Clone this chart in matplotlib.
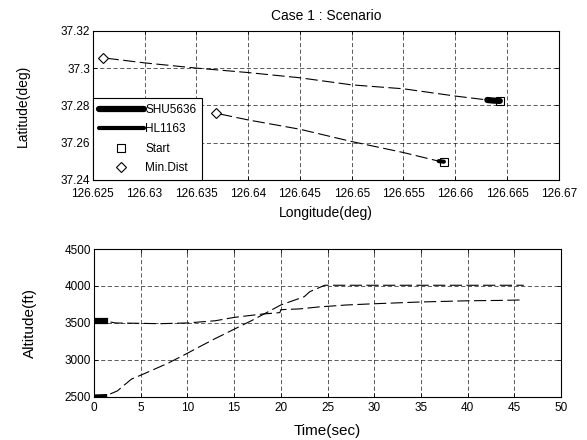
import matplotlib.pyplot as plt

plt.rcParams["font.family"] = ["Liberation Sans", "DejaVu Sans"]
plt.rcParams["font.size"] = 8.5

# Ground tracks (longitude / latitude)
shu_lon = [126.6643, 126.6636, 126.6631, 126.660, 126.655, 126.650, 126.645,
           126.640, 126.635, 126.630, 126.626]
shu_lat = [37.2824, 37.2826, 37.2829, 37.2850, 37.2889, 37.2910, 37.2948,
           37.2976, 37.3000, 37.3028, 37.3055]
hl_lon = [126.6589, 126.6584, 126.655, 126.650, 126.645, 126.640, 126.6369]
hl_lat = [37.2498, 37.2501, 37.2547, 37.2606, 37.2672, 37.2722, 37.2758]

# Altitude histories
shu_t = [0, 1.2, 2.3, 5, 7, 10, 13, 15, 16.3, 18, 19.9, 20, 22, 24, 27, 30,
         35, 40, 43.5, 46]
shu_alt = [3527, 3527, 3500, 3495, 3490, 3500, 3530, 3575, 3595, 3620, 3640,
           3680, 3690, 3716, 3743, 3760, 3784, 3800, 3805, 3812]
hl_t = [0, 1.2, 2.5, 4, 5.5, 8, 10, 11, 13, 15, 17, 20, 22.5, 23.1, 24.7,
        30, 35, 40, 46]
hl_alt = [2505, 2510, 2580, 2739, 2820, 2960, 3090, 3158, 3290, 3415, 3540,
          3743, 3855, 3923, 4010, 4010, 4010, 4010, 4010]

N_THICK_TRACK = (3, 2)   # leading points drawn bold on the map
N_THICK_ALT = 2          # leading points drawn bold on the altitude plot

lon_ticks = [126.625, 126.63, 126.635, 126.64, 126.645, 126.65, 126.655,
             126.66, 126.665, 126.67]
lon_labels = ["126.625", "126.63", "126.635", "126.64", "126.645", "126.65",
              "126.655", "126.66", "126.665", "126.67"]
lat_ticks = [37.24, 37.26, 37.28, 37.3, 37.32]
lat_labels = ["37.24", "37.26", "37.28", "37.3", "37.32"]
t_ticks = [0, 5, 10, 15, 20, 25, 30, 35, 40, 45, 50]
alt_ticks = [2500, 3000, 3500, 4000, 4500]

TRACE = dict(color="black", lw=0.8, ls=(0, (11, 4)))
GRID = dict(color="black", lw=0.6, ls=(0, (5, 3)), alpha=0.75)

fig = plt.figure(figsize=(5.87, 4.40), dpi=100)
ax1 = fig.add_axes([0.158, 0.591, 0.794, 0.339])
ax2 = fig.add_axes([0.160, 0.098, 0.796, 0.336])

for ax in (ax1, ax2):
    ax.grid(True, **GRID)
    ax.set_axisbelow(True)
    ax.tick_params(direction="in", length=3, width=0.6, top=True, right=True,
                   labelsize=8.5, pad=2)
    for s in ax.spines.values():
        s.set_linewidth(0.8)
ax1.tick_params(axis="x", pad=6)
ax2.tick_params(axis="x", pad=4)

# --- map view ---
n1, n2 = N_THICK_TRACK
h_shu, = ax1.plot(shu_lon[:n1], shu_lat[:n1], color="black", lw=4.5,
                  solid_capstyle="round", label="SHU5636")
h_hl, = ax1.plot(hl_lon[:n2], hl_lat[:n2], color="black", lw=3,
                 solid_capstyle="round", label="HL1163")
ax1.plot(shu_lon, shu_lat, **TRACE)
ax1.plot(hl_lon, hl_lat, **TRACE)
h_start, = ax1.plot([shu_lon[0], hl_lon[0]], [shu_lat[0], hl_lat[0]], "s",
                    ms=5.5, mfc="none", mec="black", mew=0.8, label="Start")
h_min, = ax1.plot([shu_lon[-1], hl_lon[-1]], [shu_lat[-1], hl_lat[-1]], "D",
                  ms=5, mfc="white", mec="black", mew=0.8, label="Min.Dist")
ax1.set_xlim(126.625, 126.67)
ax1.set_ylim(37.24, 37.32)
ax1.set_xticks(lon_ticks, lon_labels)
ax1.set_yticks(lat_ticks, lat_labels)
ax1.set_xlabel("Longitude(deg)", fontsize=10, labelpad=4)
ax1.set_ylabel("Latitude(deg)", fontsize=10, labelpad=22)
ax1.set_title("Case 1 : Scenario", fontsize=10, pad=8)
leg = ax1.legend(handles=[h_shu, h_hl, h_start, h_min], loc="lower left",
                 bbox_to_anchor=(0, 0), borderaxespad=0, fancybox=False,
                 framealpha=1, edgecolor="black", fontsize=8.5,
                 handlelength=3.8, handletextpad=0.15, borderpad=0.5,
                 labelspacing=0.62)
leg.get_frame().set_linewidth(0.8)

# --- altitude history ---
ax2.plot(shu_t[:N_THICK_ALT], shu_alt[:N_THICK_ALT], color="black", lw=4.5)
ax2.plot(hl_t[:N_THICK_ALT], hl_alt[:N_THICK_ALT], color="black", lw=3)
ax2.plot(shu_t, shu_alt, **TRACE)
ax2.plot(hl_t, hl_alt, **TRACE)
ax2.set_xlim(0, 50)
ax2.set_ylim(2500, 4500)
ax2.set_xticks(t_ticks)
ax2.set_yticks(alt_ticks)
ax2.set_xlabel("Time(sec)", fontsize=11, labelpad=7)
ax2.set_ylabel("Altitude(ft)", fontsize=11, labelpad=20)

fig.savefig("out.png", dpi=100)
